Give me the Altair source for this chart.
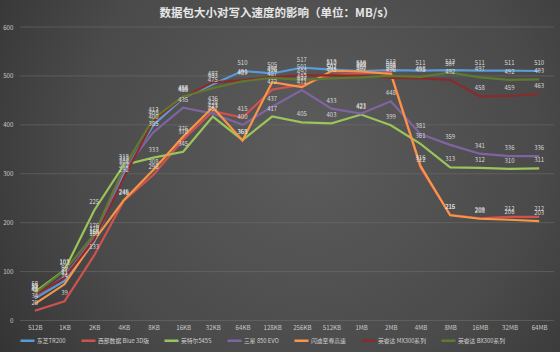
import altair as alt
import pandas as pd

categories = ["512B", "1KB", "2KB", "4KB", "8KB", "16KB", "32KB", "64KB", "128KB",
              "256KB", "512KB", "1MB", "2MB", "4MB", "8MB", "16MB", "32MB", "64MB"]
series_names = ["东芝TR200", "西部数据 Blue 3D版", "英特尔545S", "三星 850 EVO",
                "闪迪至尊高速", "英睿达 MX300系列", "英睿达 BX300系列"]

tr200 = [45, 81, 160, 302, 400, 455, 483, 510, 505, 517, 513, 510, 512, 511, 512, 511, 511, 510]
wd_blue = [20, 39, 133, 245, 298, 370, 428, 415, 472, 482, 502, 505, 508, 312, 216, 209, 212, 212]
intel545s = [58, 103, 225, 318, 333, 345, 417, 369, 417, 405, 403, 421, 399, 361, 313, 312, 310, 311]
samsung850 = [48, 90, 170, 308, 385, 435, 423, 400, 437, 471, 433, 423, 448, 381, 359, 341, 336, 336]
sandisk = [34, 74, 164, 246, 308, 376, 436, 368, 487, 477, 510, 509, 504, 316, 215, 208, 206, 203]
mx300 = [52, 87, 165, 292, 408, 456, 487, 491, 498, 501, 501, 500, 496, 495, 492, 458, 459, 463]
bx300 = [55, 102, 176, 313, 413, 458, 475, 489, 496, 492, 495, 497, 500, 498, 507, 497, 492, 493]

colors = ["#5b9bd5", "#d0524e", "#9bc55a", "#8064a2", "#f79646", "#8a2b2a", "#5f7a30"]
grid_values = [0, 100, 200, 300, 400, 500, 600]
title_text = "数据包大小对写入速度的影响（单位：MB/s）"

rows = []
for name, vals in zip(series_names, [tr200, wd_blue, intel545s, samsung850, sandisk, mx300, bx300]):
    for c, v in zip(categories, vals):
        rows.append({"series": name, "cat": c, "value": v})
df = pd.DataFrame(rows)

W, H = 534, 293.5
FONT = "Noto Sans CJK SC"
one = pd.DataFrame({"a": [0]})

yscale = alt.Scale(domain=[0, 600], nice=False, zero=True)
y_axis = alt.Axis(title=None, values=grid_values, domain=False, ticks=False, grid=False,
                  labelFontSize=6.2, labelColor="#c8c8c8", labelFont=FONT,
                  labelPadding=7, zindex=2)
x_enc = alt.X("cat:N", sort=categories, scale=alt.Scale(type="point", padding=0.5),
              axis=alt.Axis(title=None, labelAngle=0, domain=False, ticks=False, grid=False,
                            labelFontSize=6.2, labelColor="#c8c8c8", labelFont=FONT,
                            labelPadding=4, zindex=2))

gradient = {
    "gradient": "radial",
    "stops": [
        {"offset": 0, "color": "#5c5c5c"},
        {"offset": 0.55, "color": "#4a4a4a"},
        {"offset": 1, "color": "#2c2c2c"},
    ],
    "x1": 0.55, "y1": 0.45, "r1": 0,
    "x2": 0.55, "y2": 0.45, "r2": 0.75,
}

bg = alt.Chart(one).mark_rect(fill=gradient).encode(
    x=alt.value(-20), x2=alt.value(W + 6), y=alt.value(-27), y2=alt.value(H + 31.5)
)

grid = alt.Chart(pd.DataFrame({"value": grid_values})).mark_rule(
    color="#707070", strokeWidth=1, opacity=0.55
).encode(y=alt.Y("value:Q", scale=yscale, axis=y_axis), x=alt.value(0), x2=alt.value(W))

lines = alt.Chart(df).mark_line(strokeWidth=2.2).encode(
    x=x_enc,
    y=alt.Y("value:Q", scale=yscale, axis=y_axis),
    color=alt.Color("series:N", sort=series_names,
                    scale=alt.Scale(domain=series_names, range=colors),
                    legend=alt.Legend(title=None, orient="none", legendX=-1, legendY=305,
                                      direction="horizontal", symbolType="stroke",
                                      symbolSize=196, symbolStrokeWidth=2.5,
                                      labelFontSize=5.8, labelColor="#d0d0d0", labelFont=FONT,
                                      columnPadding=10, labelOffset=1, zindex=2)),
)

labels = alt.Chart(df).mark_text(dy=-8, fontSize=6, color="#d8d8d8", font=FONT).encode(
    x=alt.X("cat:N", sort=categories),
    y=alt.Y("value:Q", scale=yscale),
    text="value:Q",
)

title = alt.Chart(one).mark_text(
    text=title_text, fontSize=11.5, fontWeight="bold", color="#e6e6e6", font=FONT
).encode(x=alt.value(257), y=alt.value(-13))

chart = alt.layer(bg, grid, lines, labels, title).properties(
    width=W, height=H,
    padding={"left": 20, "top": 27, "right": 6, "bottom": 31.5},
    autosize=alt.AutoSizeParams(type="none"),
    background="#3a3a3a",
).configure_view(stroke=None)

chart.save("out.html", embed_options={"renderer": "svg", "actions": False})
